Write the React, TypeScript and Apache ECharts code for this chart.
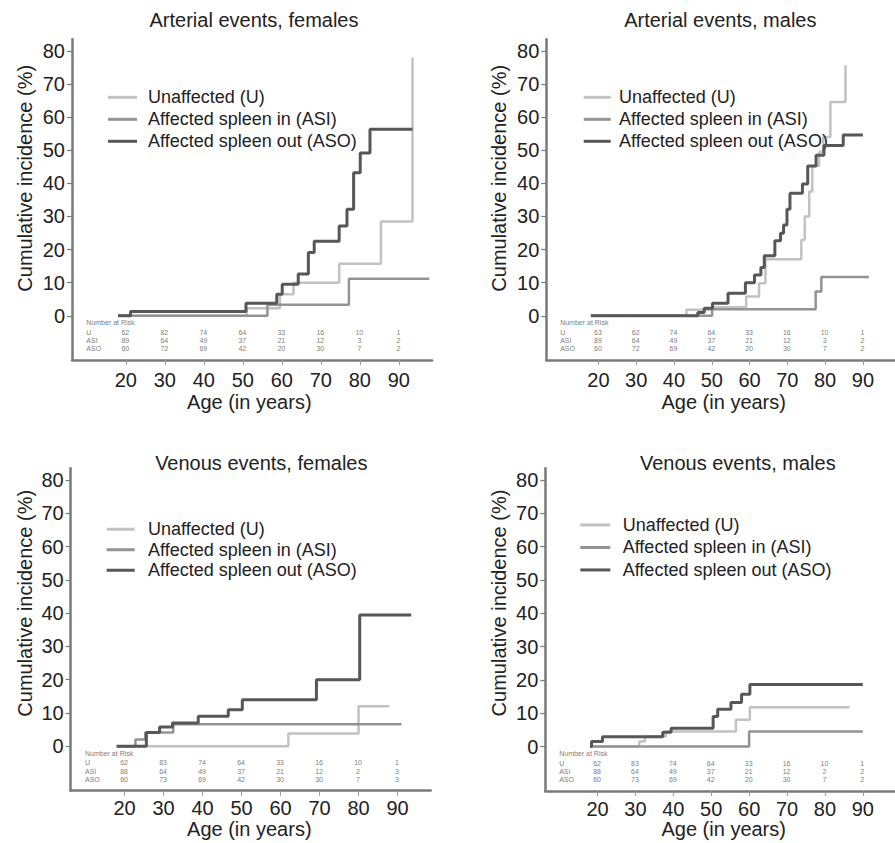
import React, { useEffect, useRef } from "react";
import * as echarts from "echarts";

const FONT = "'Liberation Sans', Arial, Helvetica, sans-serif";
const SERIES_NAMES = ["Unaffected (U)", "Affected spleen in (ASI)", "Affected spleen out (ASO)"];
const PANEL_TITLES = ["Arterial events, females", "Arterial events, males", "Venous events, females", "Venous events, males"];
const X_TICKS = [20, 30, 40, 50, 60, 70, 80, 90];
const Y_TICKS = [0, 10, 20, 30, 40, 50, 60, 70, 80];
const X_NAME = "Age (in years)";
const Y_NAME = "Cumulative incidence (%)";
const RISK_HEADER = "Number at Risk";
const RISK_GROUPS = ["U", "ASI", "ASO"];
const RISK_AGES = [20, 30, 40, 50, 60, 70, 80, 90];

// Arterial events, females
const arterialFemalesU = [[18, 0], [51, 2.3], [59.5, 6.5], [63, 10], [74.7, 15.7], [85.4, 28.5], [93.5, 78]];
const arterialFemalesASI = [[18, 0], [56.3, 3.3], [77.2, 11.2], [97.8, 11.2]];
const arterialFemalesASO = [[18, 0], [21.2, 1.3], [50.8, 3.8], [58.7, 6.5], [60.1, 9.5], [64.2, 12.6], [66.8, 19.1], [68.3, 22.5], [74.7, 27.1], [76.7, 32.2], [78.4, 43.2], [80.1, 49.2], [82.6, 56.3], [93.5, 56.3]];
const arterialFemalesRisk = [[62, 82, 74, 64, 33, 16, 10, 1], [89, 64, 49, 37, 21, 12, 3, 2], [60, 72, 69, 42, 20, 30, 7, 2]];

// Arterial events, males
const arterialMalesU = [[18, 0], [43.3, 1.8], [50.1, 2.6], [59.1, 5.8], [62.5, 9.8], [64.2, 17.1], [73.7, 22.9], [74.6, 30], [75.8, 37.5], [76.6, 45.2], [78.4, 49.5], [79.5, 54], [81.4, 64.6], [85.4, 75.7]];
const arterialMalesASI = [[18, 0], [50.1, 2.0], [77.5, 7.3], [79, 11.7], [91.6, 11.7]];
const arterialMalesASO = [[18, 0], [46.3, 1], [48, 2.3], [50.2, 3.8], [54.3, 6.8], [58.9, 10], [61.3, 12.3], [63, 14.6], [63.9, 18.1], [66.7, 22.7], [68.2, 24.9], [69, 27.4], [69.9, 32.2], [70.7, 37], [74, 39.8], [75.4, 45.2], [77.6, 48.5], [79.7, 51.4], [84.8, 54.6], [90, 54.6]];
const arterialMalesRisk = [[63, 62, 74, 64, 33, 16, 10, 1], [89, 64, 49, 37, 21, 12, 3, 2], [60, 72, 69, 42, 20, 30, 7, 2]];

// Venous events, females
const venousFemalesU = [[18, 0], [62, 3.8], [80, 12], [87.9, 12]];
const venousFemalesASI = [[18, 0], [22.8, 2], [25.3, 4.1], [32.5, 6.6], [91, 6.6]];
const venousFemalesASO = [[18, 0], [25.6, 4.1], [29, 5.8], [32.3, 7.0], [38.9, 9.0], [46.6, 11], [50.2, 14], [69.2, 20], [80.3, 39.4], [93.5, 39.4]];
const venousFemalesRisk = [[62, 83, 74, 64, 33, 16, 10, 1], [88, 64, 49, 37, 21, 12, 2, 3], [60, 73, 69, 42, 30, 30, 7, 3]];

// Venous events, males
const venousMalesU = [[18, 0], [31, 1.5], [32.5, 3], [38, 4.5], [56.5, 8], [60.2, 11.8], [86.5, 11.8]];
const venousMalesASI = [[18, 0], [60, 4.5], [90, 4.5]];
const venousMalesASO = [[18, 0], [18.4, 1.5], [21.3, 2.9], [37.2, 4.3], [39.4, 5.5], [50.5, 9.0], [51.7, 11.2], [55.2, 13.2], [58, 15.7], [60.2, 18.6], [90, 18.6]];
const venousMalesRisk = [[62, 83, 74, 64, 33, 16, 10, 1], [88, 64, 49, 37, 21, 12, 2, 2], [60, 73, 69, 42, 20, 30, 7, 2]];

const PANEL_DATA = [
  { curves: [arterialFemalesU, arterialFemalesASI, arterialFemalesASO], risk: arterialFemalesRisk },
  { curves: [arterialMalesU, arterialMalesASI, arterialMalesASO], risk: arterialMalesRisk },
  { curves: [venousFemalesU, venousFemalesASI, venousFemalesASO], risk: venousFemalesRisk },
  { curves: [venousMalesU, venousMalesASI, venousMalesASO], risk: venousMalesRisk },
];

// layout (positions / styles)
const LAYOUT = [
  { left: 72, top: 39.3, height: 320.7, xMargin: 9.5, title: [254, 20], yName: [25, 178.3], xName: [249.3, 401.7], legend: { left: 108, top: 86.3, w: 29, pad: 6, lh: 22 } },
  { left: 546.3, top: 39.3, height: 320.7, xMargin: 9.5, title: [720.3, 20], yName: [498.7, 178.3], xName: [723.7, 402], legend: { left: 583.7, top: 86.3, w: 27, pad: 3.4, lh: 22 } },
  { left: 70.7, top: 468.3, height: 322.4, xMargin: 7.5, title: [261.3, 463.3], yName: [25, 603.3], xName: [249.3, 829.3], legend: { left: 106.7, top: 519, w: 28, pad: 8.3, lh: 20.5 } },
  { left: 545.3, top: 468.3, height: 322.7, xMargin: 7.5, title: [737.8, 462.7], yName: [498.7, 603], xName: [723.7, 829.3], legend: { left: 580.3, top: 513.7, w: 30, pad: 7.4, lh: 22.5 } },
];
const X_MIN = 6.2;
const X_MAX = 98.5;
const Y_MIN = -13.35;
const Y_MAX = 83.5;
const RISK_Y = [-2.3, -5.1, -7.6, -10.1];
const RISK_LABEL_X = 10;
const COLORS = ["#c2c2c2", "#939393", "#575757"];
const WIDTHS = [2.5, 2.5, 3];
const TEXT = "#222";
const RISK_TEXT = "#555555";

export default function App() {
  const ref = useRef<HTMLDivElement>(null);
  useEffect(() => {
    if (!ref.current) return;
    const chart = echarts.init(ref.current, undefined, { renderer: "svg" });
    const grid: any[] = [];
    const xAxis: any[] = [];
    const yAxis: any[] = [];
    const series: any[] = [];
    const legend: any[] = [];
    const graphic: any[] = [];
    LAYOUT.forEach((p, i) => {
      grid.push({ left: p.left, top: p.top, width: 360, height: p.height });
      xAxis.push({
        type: "value", gridIndex: i, min: X_MIN, max: X_MAX,
        axisLine: { show: true, onZero: false, lineStyle: { color: "#7a7a7a", width: 2.5 } },
        axisTick: { show: true, customValues: X_TICKS, length: 5, lineStyle: { color: "#9a9a9a", width: 1 } },
        axisLabel: { show: true, customValues: X_TICKS, margin: p.xMargin, fontSize: 20, color: TEXT, fontFamily: FONT },
        splitLine: { show: false },
      });
      yAxis.push({
        type: "value", gridIndex: i, min: Y_MIN, max: Y_MAX,
        axisLine: { show: true, onZero: false, lineStyle: { color: "#7a7a7a", width: 2.5 } },
        axisTick: { show: true, customValues: Y_TICKS, length: 5, lineStyle: { color: "#7a7a7a", width: 1.2 } },
        axisLabel: { show: true, customValues: Y_TICKS, margin: 7, fontSize: 20, color: TEXT, fontFamily: FONT },
        splitLine: { show: false },
      });
      const d = PANEL_DATA[i];
      d.curves.forEach((c, k) => {
        series.push({
          type: "line", name: SERIES_NAMES[k], xAxisIndex: i, yAxisIndex: i, data: c, step: "end",
          symbol: "none", silent: true, color: COLORS[k],
          lineStyle: { color: COLORS[k], width: WIDTHS[k] }, z: 2 + k,
        });
      });
      const labelData: any[] = [[RISK_LABEL_X, RISK_Y[0], RISK_HEADER]];
      RISK_GROUPS.forEach((g, r) => labelData.push([RISK_LABEL_X, RISK_Y[r + 1], g]));
      const numData: any[] = [];
      d.risk.forEach((row, r) => row.forEach((n, j) => numData.push([RISK_AGES[j], RISK_Y[r + 1], String(n)])));
      const riskSeries = (data: any[], align: string) => ({
        type: "scatter", xAxisIndex: i, yAxisIndex: i, data, symbolSize: 1, color: RISK_TEXT,
        itemStyle: { color: "rgba(0,0,0,0)" }, silent: true,
        label: {
          show: true, position: [0, 0], align, verticalAlign: "middle", fontSize: 7, color: RISK_TEXT,
          fontFamily: FONT, textBorderWidth: 0, formatter: (q: any) => q.value[2],
        },
      });
      series.push(riskSeries(labelData, "left"));
      series.push(riskSeries(numData, "center"));
      legend.push({
        data: SERIES_NAMES, orient: "vertical", left: p.legend.left, top: p.legend.top, padding: 0, itemGap: 0,
        itemWidth: p.legend.w, itemHeight: 3, icon: "rect", selectedMode: false,
        textStyle: { fontSize: 18, color: TEXT, fontFamily: FONT, lineHeight: p.legend.lh, padding: [0, 0, 0, p.legend.pad] },
      });
      graphic.push({ type: "text", x: p.title[0], y: p.title[1], style: { text: PANEL_TITLES[i], fontSize: 20, fill: TEXT, fontFamily: FONT, align: "center", verticalAlign: "middle" } });
      graphic.push({ type: "text", x: p.xName[0], y: p.xName[1], style: { text: X_NAME, fontSize: 20, fill: TEXT, fontFamily: FONT, align: "center", verticalAlign: "middle" } });
      graphic.push({ type: "text", x: p.yName[0], y: p.yName[1], rotation: Math.PI / 2, style: { text: Y_NAME, fontSize: 20, fill: TEXT, fontFamily: FONT, align: "center", verticalAlign: "middle" } });
    });
    chart.setOption({ animation: false, backgroundColor: "#fff", grid, xAxis, yAxis, series, legend, graphic });
    return () => chart.dispose();
  }, []);
  return <div ref={ref} style={{ position: "absolute", left: 0, top: 0, width: 895, height: 843 }} />;
}
